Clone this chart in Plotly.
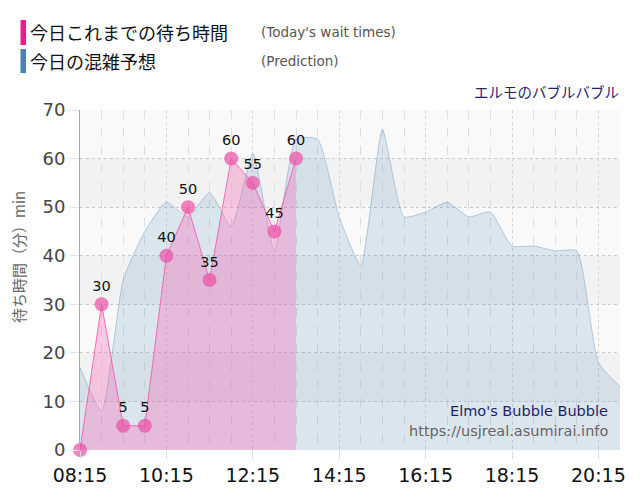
import plotly.graph_objects as go

# ---- data ----
day = "2024-01-01 "
actual_times = ["08:15", "08:45", "09:15", "09:45", "10:15", "10:45",
                "11:15", "11:45", "12:15", "12:45", "13:15"]
actual_waits = [0, 30, 5, 5, 40, 50, 35, 60, 55, 45, 60]

pred_times = ["08:15", "08:45", "09:15", "09:45", "10:15", "10:45", "11:15",
              "11:45", "12:15", "12:45", "13:15", "13:45", "14:15", "14:45",
              "15:15", "15:45", "16:15", "16:45", "17:15", "17:45", "18:15",
              "18:45", "19:15", "19:45", "20:15", "20:45"]
pred_waits = [17, 8, 35, 45, 51, 48, 53, 46, 61, 41, 64, 64, 48, 38,
              66, 48, 49, 51, 48, 49, 42, 42, 41, 41, 18, 13]

y_ticks = [0, 10, 20, 30, 40, 50, 60, 70]

# ---- layout geometry (page has an 8px body margin) ----
OFF = 8
PL, PT, PW, PH = 80, 110, 540, 340          # plot area in page pixels
W, H = 640 - 2 * OFF, 500 - 2 * OFF
L, T = PL - OFF, PT - OFF
R = W - L - PW
B = H - T - PH


def px(x):
    return (x - PL) / PW


def py(y):
    return (PT + PH - y) / PH


fig = go.Figure()

fig.add_trace(go.Scatter(
    x=[day + t for t in pred_times], y=pred_waits,
    mode="lines", line=dict(color="rgba(70,130,180,0.35)", width=1,
                            shape="spline", smoothing=0.5),
    fill="tozeroy", fillcolor="rgba(70,130,180,0.17)",
    hoverinfo="skip", showlegend=False))

fig.add_trace(go.Scatter(
    x=[day + t for t in actual_times], y=actual_waits,
    mode="lines+markers+text",
    line=dict(color="rgba(240,90,170,0.85)", width=1),
    marker=dict(size=14, color="rgba(235,80,165,0.7)"),
    fill="tozeroy", fillcolor="rgba(250,100,180,0.33)",
    text=[str(v) for v in actual_waits],
    texttemplate=["" if v == 0 else str(v) for v in actual_waits],
    textposition="top center",
    textfont=dict(family="DejaVu Sans", size=14.5, color="#111"),
    cliponaxis=False, showlegend=False))

# alternating background bands
shapes = []
for i in range(7):
    shapes.append(dict(type="rect", xref="paper", yref="y", x0=0, x1=1,
                       y0=i * 10, y1=i * 10 + 10, layer="below", line_width=0,
                       fillcolor="#f9f9f9" if i % 2 == 0 else "#f2f2f2"))
# legend colour bars
shapes.append(dict(type="rect", xref="paper", yref="paper",
                   x0=px(20.5), x1=px(26), y0=py(45), y1=py(20),
                   fillcolor="#f0188c", line_width=0))
shapes.append(dict(type="rect", xref="paper", yref="paper",
                   x0=px(20.5), x1=px(26), y0=py(73), y1=py(49),
                   fillcolor="#4a82b4", line_width=0))

jp = "Noto Sans CJK JP"
lat = "DejaVu Sans"
annotations = [
    dict(text="今日これまでの待ち時間", x=px(28), y=py(32), xanchor="left",
         yanchor="middle", font=dict(family=jp, size=18, color="#111")),
    dict(text="(Today's wait times)", x=px(259), y=py(32), xanchor="left",
         yanchor="middle", font=dict(family=lat, size=13.5, color="#555")),
    dict(text="今日の混雑予想", x=px(28), y=py(61), xanchor="left",
         yanchor="middle", font=dict(family=jp, size=18, color="#111")),
    dict(text="(Prediction)", x=px(259), y=py(61), xanchor="left",
         yanchor="middle", font=dict(family=lat, size=13.5, color="#555")),
    dict(text="エルモのバブルバブル", x=px(621), y=py(91), xanchor="right",
         yanchor="middle", font=dict(family=jp, size=14.5, color="#1f1f6e")),
    dict(text="Elmo's Bubble Bubble", x=px(610), y=py(411), xanchor="right",
         yanchor="middle", font=dict(family=lat, size=14.5, color="#1f1f6e")),
    dict(text="https://usjreal.asumirai.info", x=px(610), y=py(431),
         xanchor="right", yanchor="middle",
         font=dict(family=lat, size=14.5, color="#666")),
    dict(text="待ち時間（分）min", x=px(18), y=py(257), textangle=-90,
         xanchor="center", yanchor="middle",
         font=dict(family=jp, size=15, color="#666")),
]
for a in annotations:
    a.update(xref="paper", yref="paper", showarrow=False)

fig.update_layout(
    width=W, height=H, autosize=False,
    margin=dict(l=L, r=R, t=T, b=B, pad=0, autoexpand=False),
    paper_bgcolor="white", plot_bgcolor="#f6f6f6",
    shapes=shapes, annotations=annotations, showlegend=False,
    xaxis=dict(type="date", range=[day + "08:15", day + "20:45"],
               tick0=day + "08:15", dtick=7200000, tickformat="%H:%M",
               tickfont=dict(family=lat, size=19, color="#111"),
               showgrid=True, gridcolor="#d4d4d4", griddash="dot",
               ticks="outside", ticklen=8, tickcolor="#dddddd",
               zeroline=False, showline=False, automargin=False,
               minor=dict(dtick=1800000, tick0=day + "08:15", showgrid=True,
                          gridcolor="#dedede", griddash="dash")),
    yaxis=dict(range=[0, 70], tickvals=y_ticks,
               tickfont=dict(family=lat, size=18, color="#444"),
               showgrid=True, gridcolor="#cccccc", griddash="dot",
               ticks="outside", ticklen=10, tickcolor="#e4e4e4",
               zeroline=False, showline=True, linecolor="#aaaaaa",
               linewidth=1, automargin=False),
)

fig.write_html("out.html")
